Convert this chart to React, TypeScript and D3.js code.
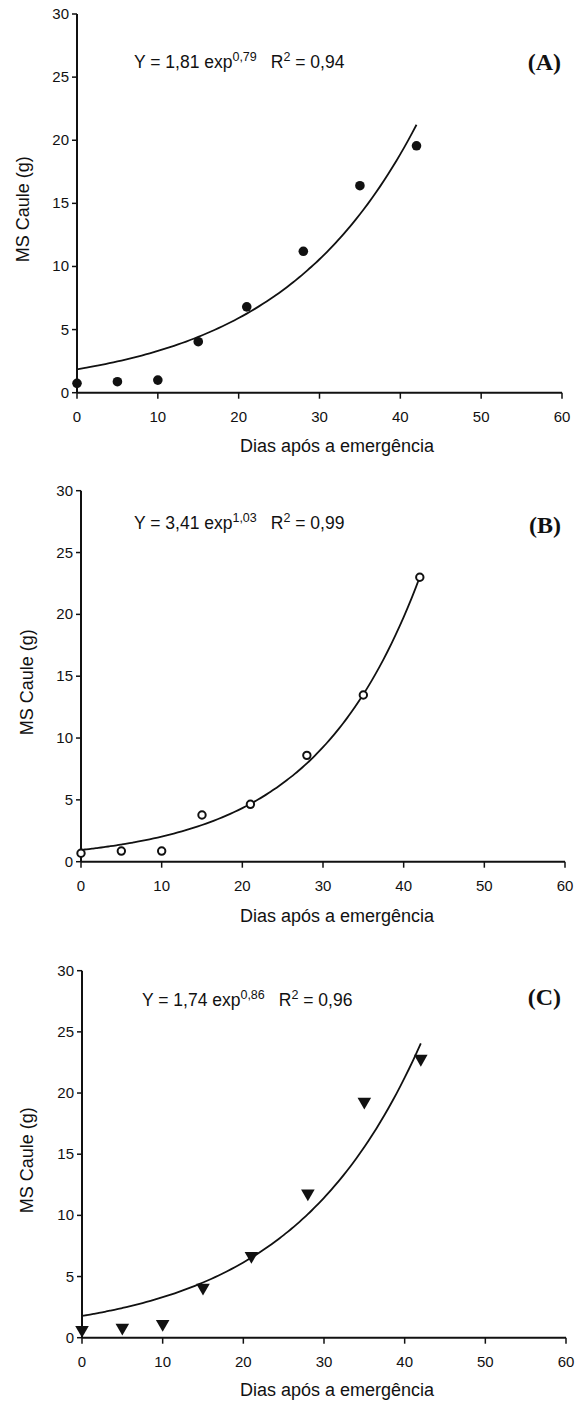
import React from "react";
import * as d3 from "d3";

const days = [0, 5, 10, 15, 21, 28, 35, 42];
const msCauleA = [0.74, 0.87, 1.0, 4.04, 6.8, 11.2, 16.4, 19.56];
const msCauleB = [0.68, 0.86, 0.86, 3.78, 4.64, 8.6, 13.48, 23.0];
const msCauleC = [0.63, 0.82, 1.12, 4.09, 6.68, 11.8, 19.3, 22.8];
// fitted curve parameters: [a, k] for a*exp(k*x)
const fitA = [1.85, 0.0581];
const fitB = [0.95, 0.0759];
const fitC = [1.78, 0.062];
const fitRange = [0, 42];
const xTicks = [0, 10, 20, 30, 40, 50, 60];
const yTicks = [0, 5, 10, 15, 20, 25, 30];
const eqCoefs = ["1,81", "3,41", "1,74"];
const eqExps = ["0,79", "1,03", "0,86"];
const eqR2 = ["0,94", "0,99", "0,96"];
const panelLabels = ["(A)", "(B)", "(C)"];
const xTitle = "Dias após a emergência";
const yTitle = "MS Caule (g)";

const SANS = "'Liberation Sans', Arial, Helvetica, sans-serif";
const SERIF = "'Liberation Serif', 'Times New Roman', serif";

const panels = [
  { values: msCauleA, fit: fitA, marker: "dot", x0: 77, x1: 562, yTop: 14, yBot: 392.7, eqX: 134, eqY: 68, labY: 70, yTitleX: 23, titleDy: 59 },
  { values: msCauleB, fit: fitB, marker: "ring", x0: 81, x1: 565, yTop: 490.7, yBot: 861.7, eqX: 134, eqY: 529, labY: 533, yTitleX: 27, titleDy: 60 },
  { values: msCauleC, fit: fitC, marker: "tri", x0: 82, x1: 566, yTop: 970.7, yBot: 1337.7, eqX: 142, eqY: 1006, labY: 1005, yTitleX: 27, titleDy: 58 },
];

function Panel({ p, i }: { p: any; i: number }) {
  const x = d3.scaleLinear().domain([0, 60]).range([p.x0, p.x1]);
  const y = d3.scaleLinear().domain([0, 30]).range([p.yBot, p.yTop]);
  const xs = d3.range(fitRange[0], fitRange[1] + 0.001, 0.5);
  const line = d3
    .line<number>()
    .x((d) => x(d))
    .y((d) => y(p.fit[0] * Math.exp(p.fit[1] * d)))
    .curve(d3.curveMonotoneX);
  const tri = d3.symbol().type(d3.symbolTriangle).size(80)();
  const yMid = (p.yTop + p.yBot) / 2 + 6;
  return (
    <g>
      <line x1={x(0)} x2={x(0)} y1={y(0)} y2={y(30)} stroke="#111" strokeWidth={2} />
      <line x1={x(0)} x2={x(60)} y1={y(0)} y2={y(0)} stroke="#111" strokeWidth={2} />
      {yTicks.map((t) => (
        <g key={"y" + t}>
          <line x1={x(0) - 5} x2={x(0)} y1={y(t)} y2={y(t)} stroke="#111" strokeWidth={1.5} />
          <text x={x(0) - 8} y={y(t) + 5} textAnchor="end" fontFamily={SANS} fontSize={15} fill="#111">
            {t}
          </text>
        </g>
      ))}
      {xTicks.map((t) => (
        <g key={"x" + t}>
          <line x1={x(t)} x2={x(t)} y1={y(0)} y2={y(0) + 6} stroke="#111" strokeWidth={1.5} />
          <text x={x(t)} y={y(0) + 29} textAnchor="middle" fontFamily={SANS} fontSize={15} fill="#111">
            {t}
          </text>
        </g>
      ))}
      <text x={337} y={y(0) + p.titleDy} textAnchor="middle" fontFamily={SANS} fontSize={18} fill="#111">
        {xTitle}
      </text>
      <text
        transform={`translate(${p.yTitleX},${yMid}) rotate(-90)`}
        textAnchor="middle"
        dy={6}
        fontFamily={SANS}
        fontSize={18}
        fill="#111"
      >
        {yTitle}
      </text>
      <path d={line(xs) || ""} fill="none" stroke="#111" strokeWidth={1.8} />
      {days.map((d, j) => {
        const cx = x(d);
        const cy = y(p.values[j]);
        if (p.marker === "dot") return <circle key={j} cx={cx} cy={cy} r={4.8} fill="#111" />;
        if (p.marker === "ring")
          return <circle key={j} cx={cx} cy={cy} r={3.7} fill="#fff" stroke="#111" strokeWidth={2} />;
        return <path key={j} d={tri} transform={`translate(${cx},${cy}) rotate(180)`} fill="#111" />;
      })}
      <text x={p.eqX} y={p.eqY} fontFamily={SANS} fontSize={17.5} fill="#111">
        {`Y = ${eqCoefs[i]} exp`}
        <tspan dy={-7} fontSize={12.5}>{eqExps[i]}</tspan>
        <tspan dy={7} dx={14}>R</tspan>
        <tspan dy={-7} fontSize={12.5}>2</tspan>
        <tspan dy={7}>{` = ${eqR2[i]}`}</tspan>
      </text>
      <text x={561} y={p.labY} textAnchor="end" fontFamily={SERIF} fontWeight="bold" fontSize={24} fill="#111">
        {panelLabels[i]}
      </text>
    </g>
  );
}

export default function App() {
  return (
    <svg
      width={576}
      height={1401}
      viewBox="0 0 576 1401"
      style={{ position: "absolute", left: 0, top: 0, background: "#fff" }}
    >
      <rect x={0} y={0} width={576} height={1401} fill="#fff" />
      {panels.map((p, i) => (
        <Panel key={i} p={p} i={i} />
      ))}
    </svg>
  );
}
